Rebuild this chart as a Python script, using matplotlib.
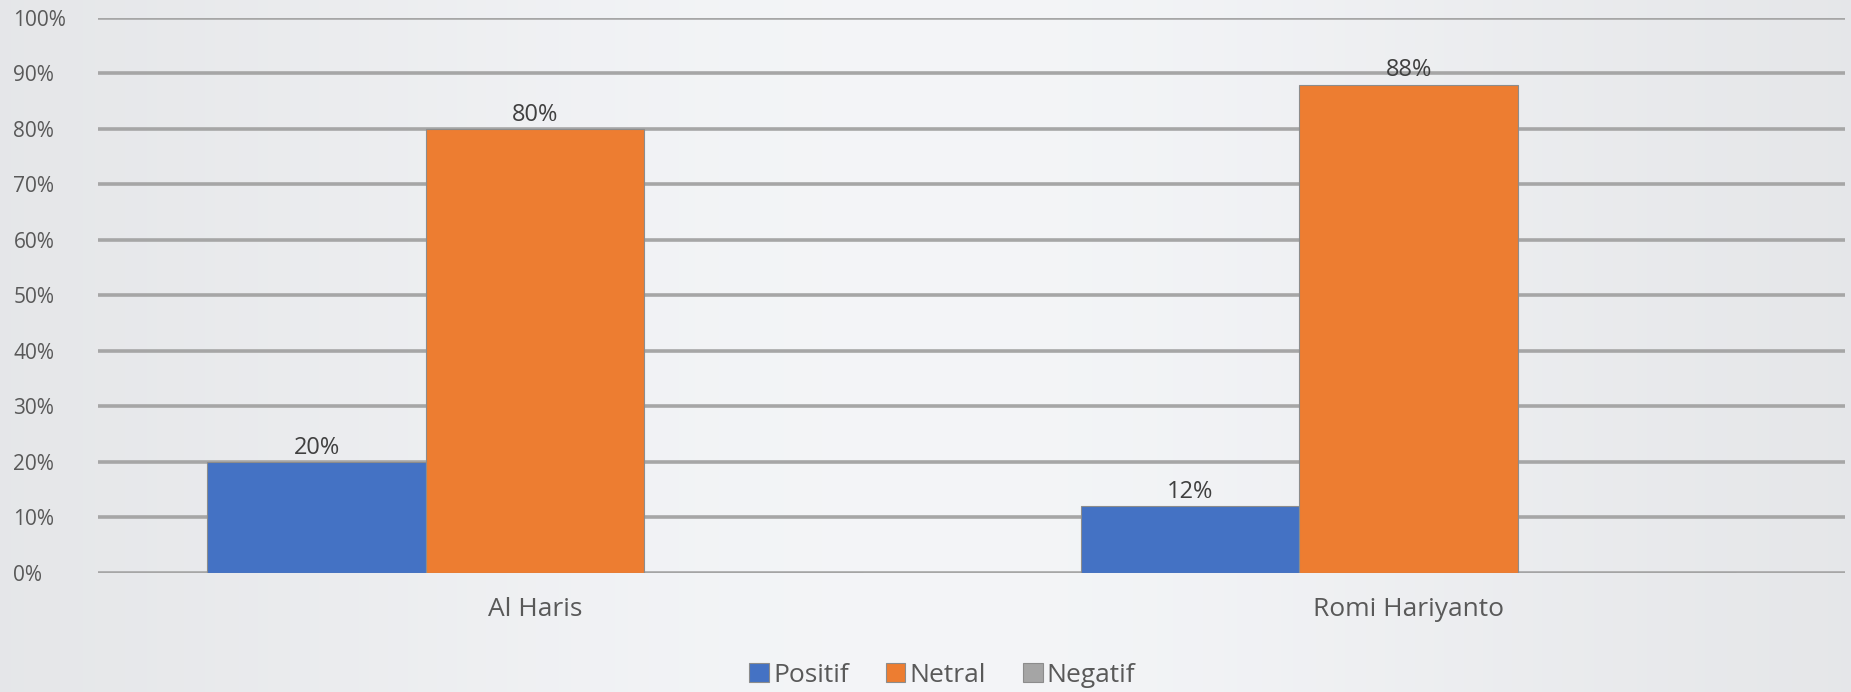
import numpy as np
import matplotlib
matplotlib.use("Agg")
import matplotlib.pyplot as plt
from matplotlib.ticker import PercentFormatter

# data
candidates = ["Al Haris", "Romi Hariyanto"]
series = ["Positif", "Netral", "Negatif"]
positif = [0.20, 0.12]
netral = [0.80, 0.88]
negatif = [0.0, 0.0]
colors = ["#4472c4", "#ed7d31", "#a5a5a5"]

plt.rcParams["font.family"] = ["Open Sans", "DejaVu Sans"]
text_color = "#595959"

fig = plt.figure(figsize=(18.51, 6.92), dpi=100)

# soft light background gradient
bg = fig.add_axes([0, 0, 1, 1])
gx = np.linspace(0, 1, 256)
grad = 0.90 + 0.07 * np.exp(-((gx - 0.5) / 0.4) ** 2)
img = np.tile(grad, (16, 1))
bg.imshow(np.dstack([img * 0.985, img * 0.99, img]), aspect="auto",
          extent=[0, 1, 0, 1], interpolation="bilinear")
bg.axis("off")

ax = fig.add_axes([0.053, 0.172, 0.944, 0.802])
ax.patch.set_alpha(0)

x = np.arange(len(candidates))
w = 0.25
for i, (name, vals) in enumerate(zip(series, [positif, netral, negatif])):
    pos = x + (i - 1) * w
    bars = ax.bar(pos, vals, w, color=colors[i], edgecolor="#8c8c8c",
                  linewidth=0.8, label=name, zorder=3)
    for b, v in zip(bars, vals):
        if v > 0:
            ax.text(b.get_x() + b.get_width() / 2, v + 0.004, f"{v:.0%}",
                    ha="center", va="bottom", fontsize=17, color="#404040")

ax.set_xlim(-0.5, 1.5)
ax.set_ylim(0, 1)
ax.set_yticks(np.arange(0, 1.01, 0.1))
ax.yaxis.set_major_formatter(PercentFormatter(1.0, decimals=0))
ax.grid(axis="y", color="#a6a6a6", linewidth=2.6, zorder=0)
for s in ax.spines.values():
    s.set_visible(False)

ax.set_xticks(x)
ax.set_xticklabels(candidates)
ax.tick_params(axis="x", length=0, pad=17, labelsize=19, labelcolor=text_color)
ax.tick_params(axis="y", length=0, pad=61, labelsize=15, labelcolor=text_color)
for lab in ax.get_yticklabels():
    lab.set_horizontalalignment("left")

leg = fig.legend(loc="center", bbox_to_anchor=(0.509, 0.024), ncol=3,
                 frameon=False, fontsize=19, handlelength=0.75,
                 handleheight=0.75, handletextpad=0.15, columnspacing=1.4,
                 labelcolor=text_color)

plt.savefig("out.png", dpi=100)
